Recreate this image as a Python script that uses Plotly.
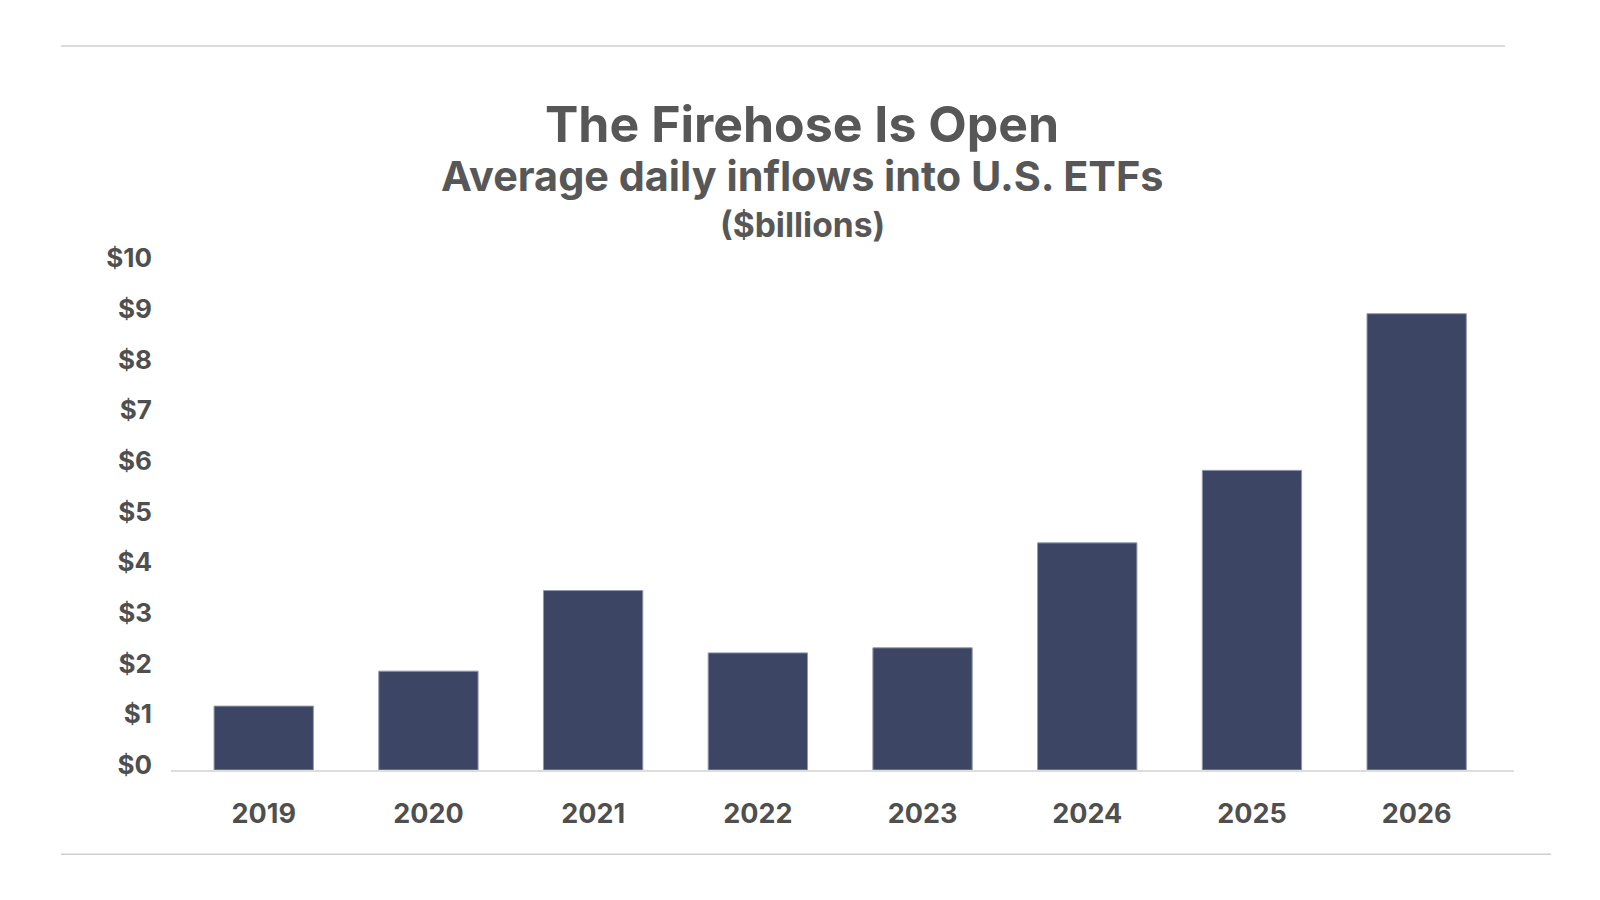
import plotly.graph_objects as go

years = ["2019", "2020", "2021", "2022", "2023", "2024", "2025", "2026"]
inflows = [1.26, 1.95, 3.54, 2.31, 2.41, 4.48, 5.91, 9.0]
y_ticks = [0, 1, 2, 3, 4, 5, 6, 7, 8, 9, 10]
y_tick_labels = ["$" + str(v) for v in y_ticks]

title = "The Firehose Is Open"
subtitle = "Average daily inflows into U.S. ETFs"
unit_note = "($billions)"

OFF = 8  # page body margin
W, H = 1600 - OFF, 900 - OFF
L = 171 - OFF
T = 262.5 - OFF
R = W - (1514 - OFF)
B = H - (770.5 - OFF)
PW, PH = W - L - R, H - T - B

def px(x):
    return (x - OFF - L) / PW

def py(y):
    return (H - B - (y - OFF)) / PH

FONT = "Inter"
TEXT = "#575757"

fig = go.Figure()
fig.add_trace(go.Bar(
    x=list(range(len(years))), y=inflows,
    marker=dict(color="#3d4565", line=dict(color="#9297b0", width=1)),
    width=0.603, hoverinfo="skip",
))

fig.update_layout(
    width=W, height=H,
    margin=dict(l=L, r=R, t=T, b=B, pad=0),
    paper_bgcolor="white", plot_bgcolor="white",
    showlegend=False,
    font=dict(family=FONT, color=TEXT),
    xaxis=dict(
        range=[-0.563, 7.591], tickvals=list(range(len(years))), ticktext=years,
        showgrid=False, zeroline=False, showline=True, linecolor="#dddddd", linewidth=2,
        ticks="", ticklabelstandoff=19,
        tickfont=dict(family=FONT, size=27, color="#4f4f4f", weight=700),
        fixedrange=True,
    ),
    yaxis=dict(
        range=[0, 10], tickvals=y_ticks, ticktext=y_tick_labels,
        showgrid=False, zeroline=False, showline=False,
        ticks="", ticklabelstandoff=18, ticklabelshift=-5,
        tickfont=dict(family=FONT, size=26, color="#4f4f4f", weight=700),
        fixedrange=True,
    ),
    shapes=[
        dict(type="line", xref="paper", yref="paper", x0=px(61), x1=px(1505), y0=py(45), y1=py(45),
             line=dict(color="#cfcfcf", width=1.5)),
        dict(type="line", xref="paper", yref="paper", x0=px(61), x1=px(1551), y0=py(855), y1=py(855),
             line=dict(color="#cfcfcf", width=1.5)),
    ],
    annotations=[
        dict(text=title, xref="paper", yref="paper", x=px(802), y=py(123.5), showarrow=False,
             xanchor="center", yanchor="middle", font=dict(family=FONT, size=50, color=TEXT, weight=700)),
        dict(text=subtitle, xref="paper", yref="paper", x=px(801.5), y=py(175.5), showarrow=False,
             xanchor="center", yanchor="middle", font=dict(family=FONT, size=41.4, color=TEXT, weight=700)),
        dict(text=unit_note, xref="paper", yref="paper", x=px(802), y=py(223.5), showarrow=False,
             xanchor="center", yanchor="middle", font=dict(family=FONT, size=33.6, color=TEXT, weight=700)),
    ],
)

fig.write_html("out.html")
